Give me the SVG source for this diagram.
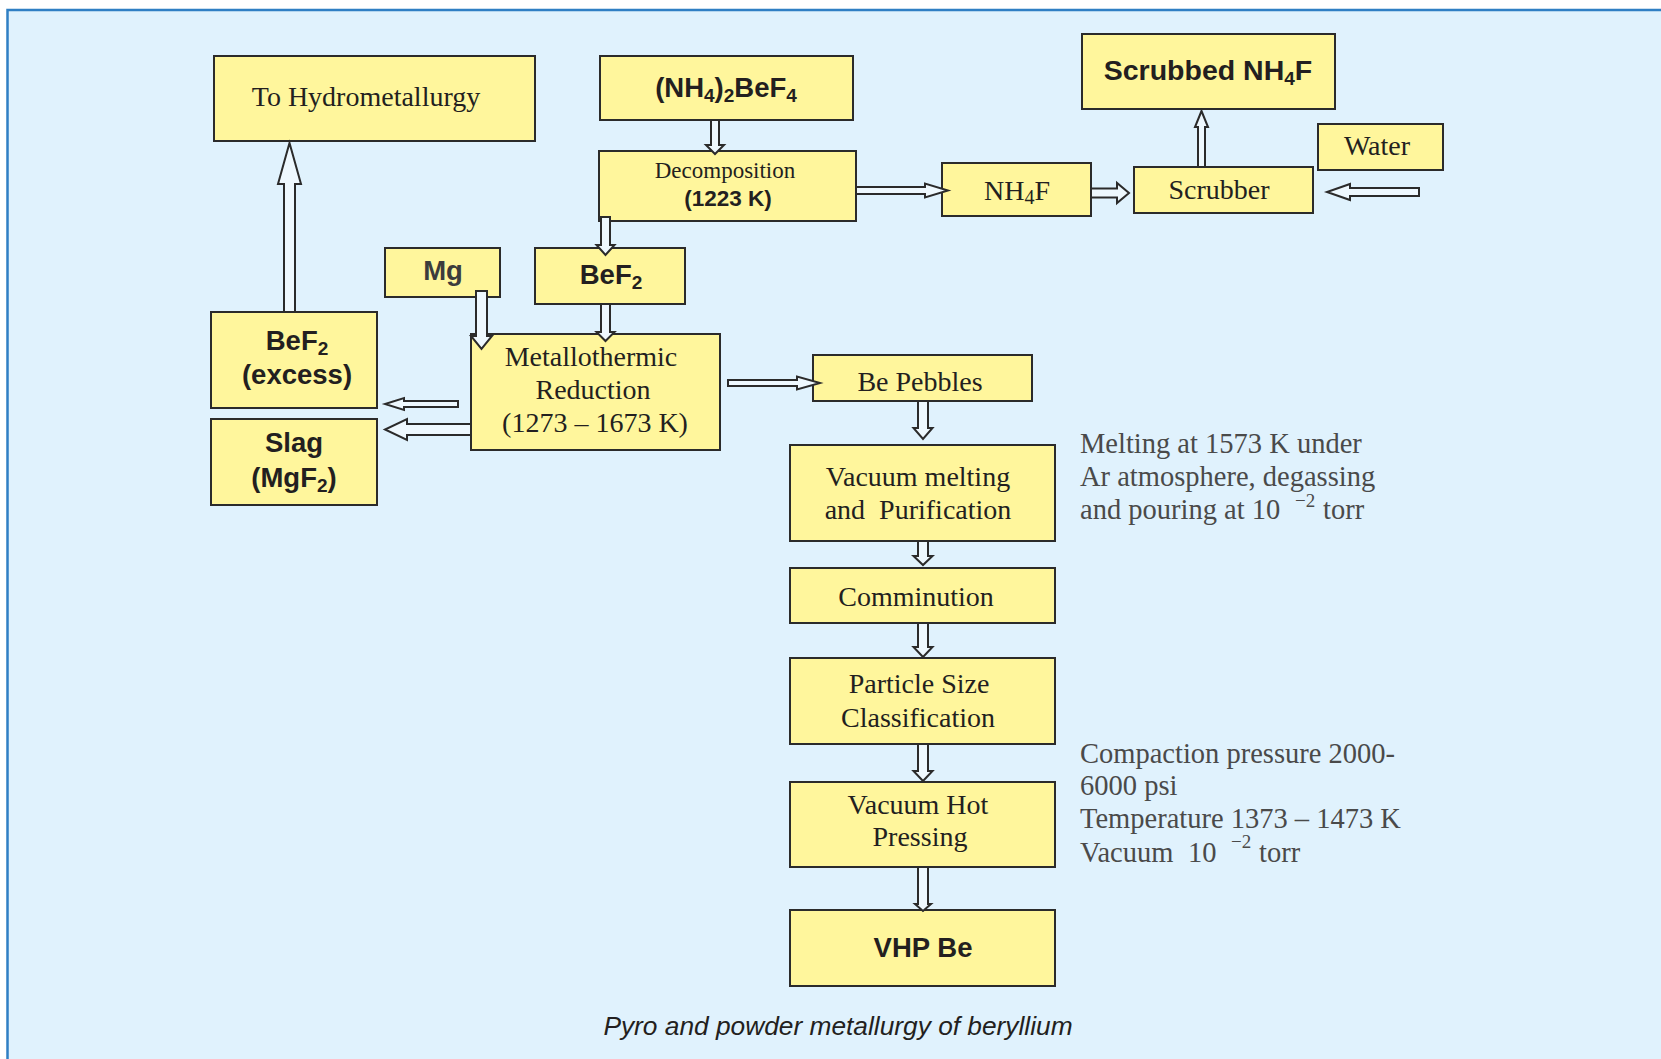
<svg xmlns="http://www.w3.org/2000/svg" width="1661" height="1059" viewBox="0 0 1661 1059">
  <style>
    .box { fill: #fff69c; stroke: #2b2b2b; stroke-width: 2; }
    .serif { font-family: "Liberation Serif", "Times New Roman", serif; font-size: 28px; fill: #231f20; text-anchor: middle; }
    .bold { font-family: "Liberation Sans", Arial, sans-serif; font-weight: bold; font-size: 27.5px; fill: #231f20; text-anchor: middle; }
    .note { font-family: "Liberation Serif", "Times New Roman", serif; font-size: 28.5px; fill: #4a4a4a; }
    .arrow { fill: #eef8fe; stroke: #2b2b2b; stroke-width: 2; stroke-linejoin: miter; }
    .caption { font-family: "Liberation Sans", Arial, sans-serif; font-style: italic; font-size: 26.3px; fill: #231f20; text-anchor: middle; }
  </style>

  <!-- page and panel -->
  <rect x="0" y="0" width="1661" height="1059" fill="#ffffff"/>
  <rect x="7.5" y="10" width="1700" height="1100" fill="#e0f2fd" stroke="#2f7fc4" stroke-width="2.5"/>

  <g id="to-hydrometallurgy">
    <rect class="box" x="214" y="56" width="321" height="85"/>
    <text class="serif" x="366" y="106">To Hydrometallurgy</text>
  </g>

  <g id="ammonium-fluoroberyllate">
    <rect class="box" x="600" y="56" width="253" height="64"/>
    <text class="bold" x="726" y="97">(NH<tspan font-size="19" dy="5">4</tspan><tspan dy="-5">)</tspan><tspan font-size="19" dy="5">2</tspan><tspan dy="-5">BeF</tspan><tspan font-size="19" dy="5">4</tspan></text>
  </g>

  <g id="decomposition">
    <rect class="box" x="599" y="151" width="257" height="70"/>
    <text class="serif" x="725" y="178" style="font-size:23px">Decomposition</text>
    <text class="bold" x="728" y="206" style="font-size:22.5px">(1223 K)</text>
  </g>

  <g id="nh4f">
    <rect class="box" x="942" y="163" width="149" height="53"/>
    <text class="serif" x="1017" y="200">NH<tspan font-size="20" dy="4">4</tspan><tspan dy="-4">F</tspan></text>
  </g>

  <g id="scrubber">
    <rect class="box" x="1134" y="167" width="179" height="46"/>
    <text class="serif" x="1219" y="199">Scrubber</text>
  </g>

  <g id="scrubbed-nh4f">
    <rect class="box" x="1082" y="34" width="253" height="75"/>
    <text class="bold" x="1208" y="80" style="font-size:28.5px">Scrubbed NH<tspan font-size="19" dy="5">4</tspan><tspan dy="-5">F</tspan></text>
  </g>

  <g id="water">
    <rect class="box" x="1318" y="124" width="125" height="46"/>
    <text class="serif" x="1377" y="155">Water</text>
  </g>

  <g id="mg">
    <rect class="box" x="385" y="248" width="115" height="49"/>
    <text class="bold" x="443" y="280" style="fill:#3c3c3c">Mg</text>
  </g>

  <g id="bef2">
    <rect class="box" x="535" y="248" width="150" height="56"/>
    <text class="bold" x="611" y="284">BeF<tspan font-size="19" dy="5">2</tspan></text>
  </g>

  <g id="metallothermic-reduction">
    <rect class="box" x="471" y="334" width="249" height="116"/>
    <text class="serif" x="591" y="366">Metallothermic</text>
    <text class="serif" x="593" y="399">Reduction</text>
    <text class="serif" x="595" y="432">(1273 – 1673 K)</text>
  </g>

  <g id="bef2-excess">
    <rect class="box" x="211" y="312" width="166" height="96"/>
    <text class="bold" x="297" y="350">BeF<tspan font-size="19" dy="5">2</tspan></text>
    <text class="bold" x="297" y="384">(excess)</text>
  </g>

  <g id="slag">
    <rect class="box" x="211" y="419" width="166" height="86"/>
    <text class="bold" x="294" y="452">Slag</text>
    <text class="bold" x="294" y="487">(MgF<tspan font-size="19" dy="5">2</tspan><tspan dy="-5">)</tspan></text>
  </g>

  <g id="be-pebbles">
    <rect class="box" x="813" y="355" width="219" height="46"/>
    <text class="serif" x="920" y="391">Be Pebbles</text>
  </g>

  <g id="vacuum-melting">
    <rect class="box" x="790" y="445" width="265" height="96"/>
    <text class="serif" x="918" y="486">Vacuum melting</text>
    <text class="serif" x="918" y="519" xml:space="preserve">and  Purification</text>
  </g>

  <g id="comminution">
    <rect class="box" x="790" y="568" width="265" height="55"/>
    <text class="serif" x="916" y="606">Comminution</text>
  </g>

  <g id="particle-size-classification">
    <rect class="box" x="790" y="658" width="265" height="86"/>
    <text class="serif" x="919" y="693">Particle Size</text>
    <text class="serif" x="918" y="727">Classification</text>
  </g>

  <g id="vacuum-hot-pressing">
    <rect class="box" x="790" y="782" width="265" height="85"/>
    <text class="serif" x="918" y="814">Vacuum Hot</text>
    <text class="serif" x="920" y="846">Pressing</text>
  </g>

  <g id="vhp-be">
    <rect class="box" x="790" y="910" width="265" height="76"/>
    <text class="bold" x="923" y="957">VHP Be</text>
  </g>

  <!-- connectors: hollow block arrows, drawn over the boxes -->
  <g id="connectors">
    <!-- (NH4)2BeF4 -> Decomposition -->
    <polygon class="arrow" points="711,120 719,120 719,145 724,145 715,154 706,145 711,145"/>
    <!-- Decomposition -> BeF2 -->
    <polygon class="arrow" points="601,217 610,217 610,245 614.5,245 605.5,255 596.5,245 601,245"/>
    <!-- BeF2 -> Metallothermic Reduction -->
    <polygon class="arrow" points="601,304 610,304 610,332 614.5,332 605.5,341 596.5,332 601,332"/>
    <!-- Mg -> Metallothermic Reduction -->
    <polygon class="arrow" points="476,291 487,291 487,336 492,336 481.5,349 471,336 476,336"/>
    <!-- BeF2 (excess) -> To Hydrometallurgy -->
    <polygon class="arrow" points="284,312 295,312 295,184 301,184 289.5,143 278,184 284,184"/>
    <!-- Decomposition -> NH4F -->
    <polygon class="arrow" points="856,187 925,187 925,183.5 948,190.5 925,197.5 925,194 856,194"/>
    <!-- NH4F -> Scrubber -->
    <polygon class="arrow" points="1091,188.5 1117,188.5 1117,183 1129,193 1117,203 1117,197.5 1091,197.5"/>
    <!-- Scrubber -> Scrubbed NH4F -->
    <polygon class="arrow" points="1198,167 1205,167 1205,127 1208,127 1201.5,111 1195,127 1198,127"/>
    <!-- Water -> Scrubber -->
    <polygon class="arrow" points="1419,188 1350,188 1350,184 1327,192 1350,200 1350,196 1419,196"/>
    <!-- Metallothermic Reduction -> BeF2 (excess) -->
    <polygon class="arrow" points="458,401 404,401 404,398 385,404 404,410 404,407 458,407"/>
    <!-- Metallothermic Reduction -> Slag -->
    <polygon class="arrow" points="471,424 407,424 407,419 385,429.5 407,440 407,435 471,435"/>
    <!-- Metallothermic Reduction -> Be Pebbles -->
    <polygon class="arrow" points="728,380 797,380 797,376.5 820,383 797,389.5 797,386 728,386"/>
    <!-- process column -->
    <polygon class="arrow" points="918,401 928,401 928,428 932.5,428 923,439 913.5,428 918,428"/>
    <polygon class="arrow" points="918,541 928,541 928,556 932.5,556 923,565 913.5,556 918,556"/>
    <polygon class="arrow" points="918,623 928,623 928,647 932.5,647 923,657 913.5,647 918,647"/>
    <polygon class="arrow" points="918,744 928,744 928,771 932.5,771 923,781 913.5,771 918,771"/>
    <polygon class="arrow" points="918,867 928,867 928,904 931,904 923,911 915,904 918,904"/>
  </g>

  <!-- process condition notes -->
  <g id="melting-notes" class="note">
    <text x="1080" y="453">Melting at 1573 K under</text>
    <text x="1080" y="486">Ar atmosphere, degassing</text>
    <text x="1080" y="519">and pouring at 10</text>
    <text x="1295" y="507" font-size="19">−2</text>
    <text x="1323" y="519">torr</text>
  </g>

  <g id="pressing-notes" class="note">
    <text x="1080" y="763">Compaction pressure 2000-</text>
    <text x="1080" y="795">6000 psi</text>
    <text x="1080" y="828">Temperature 1373 – 1473 K</text>
    <text x="1080" y="862">Vacuum</text>
    <text x="1188" y="862">10</text>
    <text x="1231" y="848" font-size="19">−2</text>
    <text x="1259" y="862">torr</text>
  </g>

  <text class="caption" x="838" y="1035">Pyro and powder metallurgy of beryllium</text>
</svg>
